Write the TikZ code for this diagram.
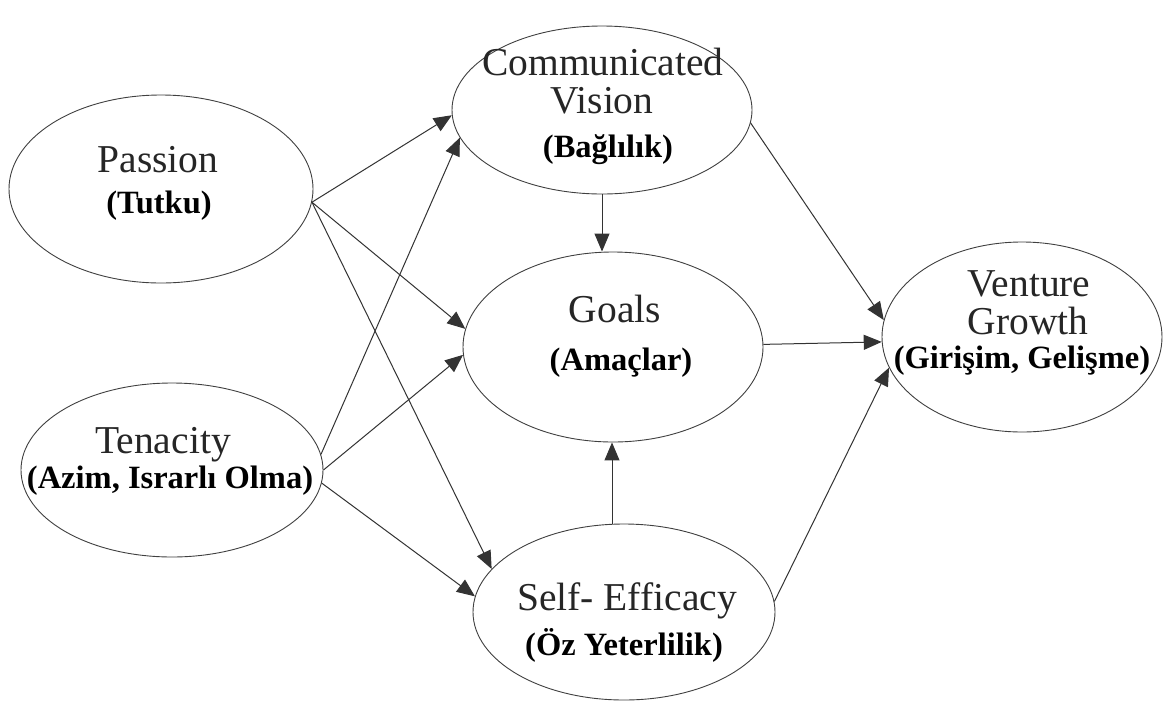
\documentclass[tikz,border=0pt]{standalone}
\usepackage{fontspec}
\setmainfont{Liberation Serif}
\usetikzlibrary{arrows.meta,calc,shapes.geometric}

\begin{document}
\begin{tikzpicture}[x=1pt,y=-1pt,
  oval/.style={ellipse,draw=black!75,line width=0.9pt,inner sep=0pt},
  reg/.style={anchor=base,inner sep=0pt,text=black!85,font=\fontsize{39.5}{41}\selectfont},
  bld/.style={anchor=base,inner sep=0pt,text=black,font=\fontsize{32.5}{36}\selectfont\bfseries},
  arr/.style={draw=black!80,line width=1pt,-{Triangle[length=18pt,width=15pt]}}]
\useasboundingbox[fill=white] (0,0) rectangle (1167,716);

% constructs
\node[oval,minimum width=304pt,minimum height=188pt] (passion) at (161,189) {};
\node[oval,minimum width=302pt,minimum height=174pt] (tenacity) at (172,470) {};
\node[oval,minimum width=300pt,minimum height=168pt] (cv) at (602,110) {};
\node[oval,minimum width=300pt,minimum height=190pt] (goals) at (613,347) {};
\node[oval,minimum width=302pt,minimum height=176pt] (se) at (624,612) {};
\node[oval,minimum width=280pt,minimum height=190pt] (vg) at (1022,337) {};

% labels
\node[reg] (passionA) at (158,172) {Passion};
\node[bld] (passionB) at (159,213) {(Tutku)};
\node[reg] (tenacityA) at (163,453) {Tenacity};
\node[bld] (tenacityB) at (170,488) {(Azim, Israrlı Olma)};
\node[reg] (cvA) at (603,75) {Communicated};
\node[reg] (cvB) at (602,113) {Vision};
\node[bld] (cvC) at (608,157) {(Bağlılık)};
\node[reg] (goalsA) at (615,322) {Goals};
\node[bld] (goalsB) at (621,370) {(Amaçlar)};
\node[reg] (seA) at (627,610) {Self- Efficacy};
\node[bld] (seB) at (624,655) {(Öz Yeterlilik)};
\node[reg] (vgA) at (1029,296) {Venture};
\node[reg] (vgB) at (1028,334) {Growth};
\node[bld] (vgC) at (1022,368) {(Girişim, Gelişme)};

% paths
\draw[arr] (passion.-5.3) -- (cv.182);
\draw[arr] (passion.-5.3) -- (goals.173.7);
\draw[arr] (passion.-5.3) -- (se.162.7);
\draw[arr] (tenacity.6.8) -- (cv.191);
\draw[arr] (tenacity.0) -- (goals.183);
\draw[arr] (tenacity.-5) -- (se.174.3);
\draw[arr] (cv.south) -- (cv.south |- goals.north);
\coordinate (seTop) at ($(se.north)+(-12,0)$);
\draw[arr] (seTop) -- (seTop |- goals.south);
\draw[arr] (cv.-5.7) -- (vg.173);
\draw[arr] (goals.1.5) -- (vg.182.5);
\draw[arr] (se.4.6) -- (vg.193);
\end{tikzpicture}
\end{document}
